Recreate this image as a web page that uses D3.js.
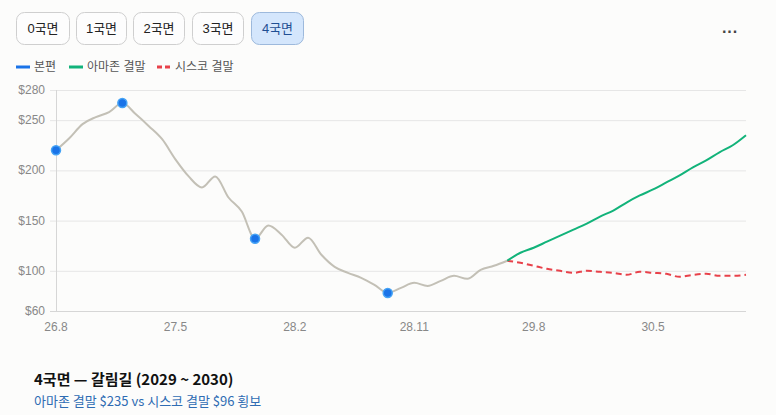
<!DOCTYPE html>
<html>
<head>
<meta charset="utf-8">
<script src="https://cdn.jsdelivr.net/npm/d3@7"></script>
<style>
  html, body { margin: 0; padding: 0; background: #fcfcfb; }
  svg { display: block; }
</style>
</head>
<body>
<div id="chart"></div>
<script>
// month labels, 2026.8 ~ 2030.12
var months = [
  "26.8","26.9","26.10","26.11","26.12",
  "27.1","27.2","27.3","27.4","27.5","27.6","27.7","27.8","27.9","27.10","27.11","27.12",
  "28.1","28.2","28.3","28.4","28.5","28.6","28.7","28.8","28.9","28.10","28.11","28.12",
  "29.1","29.2","29.3","29.4","29.5","29.6","29.7","29.8","29.9","29.10","29.11","29.12",
  "30.1","30.2","30.3","30.4","30.5","30.6","30.7","30.8","30.9","30.10","30.11","30.12"
];
var xTicks = ["26.8", "27.5", "28.2", "28.11", "29.8", "30.5"];
var yTicks = [60, 100, 150, 200, 250, 280];

// 본편 (26.8 ~ 29.6)
var mainValues = [220,232,246,253,258,267,256,244,231,211,194,183,194,173,159,132,145,136,
  123,133,116,104,98,93,86,78,83,88,85,90,95,92,101,105,110];
// 결말 (29.6 ~ 30.12)
var amazonValues = [110,118,123,129,135,141,147,154,160,168,175,181,188,195,203,210,218,225,235];
var ciscoValues = [110,108,105,102,100,98,100,99,98,96,99,98,97,94,96,97,95,95,96];
var keyPoints = [0, 5, 15, 25];

var phases = ["0국면", "1국면", "2국면", "3국면", "4국면"];
var activePhase = 4;

var W = 776, H = 415;
var svg = d3.select("#chart").append("svg")
    .attr("width", W).attr("height", H)
    .style("font-family", "'Liberation Sans', 'Noto Sans CJK KR', sans-serif");

// phase buttons
var btnX = [16, 76, 133, 192, 251];
var btnW = [54, 51, 52, 52, 53];
var btn = svg.selectAll(".btn")
    .data(phases)
    .enter().append("g")
    .attr("class", "btn")
    .attr("transform", function (d, i) { return "translate(" + btnX[i] + ",12)"; });
btn.append("rect")
    .attr("x", 0.5).attr("y", 0.5)
    .attr("width", function (d, i) { return btnW[i] - 1; })
    .attr("height", 32)
    .attr("rx", 8)
    .attr("fill", function (d, i) { return i == activePhase ? "#d4e6fc" : "#fdfdfd"; })
    .attr("stroke", function (d, i) { return i == activePhase ? "#9db9dc" : "#cfcfcf"; });
btn.append("text")
    .attr("x", function (d, i) { return btnW[i] / 2; })
    .attr("y", 21)
    .attr("text-anchor", "middle")
    .style("font-size", "13px")
    .attr("fill", function (d, i) { return i == activePhase ? "#1f4f93" : "#222"; })
    .text(function (d) { return d; });

svg.append("text")
    .attr("x", 730).attr("y", 37)
    .attr("text-anchor", "middle")
    .style("font-size", "16px").style("font-weight", "bold")
    .attr("fill", "#444")
    .text("···");

// legend
var legend = [
  { label: "본편", color: "#1a73e8", x: 16, dash: null },
  { label: "아마존 결말", color: "#12b37a", x: 69, dash: null },
  { label: "시스코 결말", color: "#e8414a", x: 157, dash: "5,3" }
];
var lg = svg.selectAll(".lg")
    .data(legend)
    .enter().append("g")
    .attr("transform", function (d) { return "translate(" + d.x + ",67)"; });
lg.append("line")
    .attr("x1", 0).attr("x2", 14)
    .attr("stroke", function (d) { return d.color; })
    .attr("stroke-width", 3)
    .attr("stroke-dasharray", function (d) { return d.dash; });
lg.append("text")
    .attr("x", 18).attr("y", 4)
    .style("font-size", "12px")
    .attr("fill", "#555")
    .text(function (d) { return d.label; });

// scales
var x = d3.scalePoint().domain(months).range([56, 746]);
var y = d3.scaleLinear().domain([60, 280]).range([311, 90]);

// grid
svg.append("g")
    .selectAll("line")
    .data(yTicks)
    .enter().append("line")
    .attr("x1", 50).attr("x2", 746)
    .attr("y1", function (d) { return y(d) + 0.5; })
    .attr("y2", function (d) { return y(d) + 0.5; })
    .attr("stroke", function (d) { return d == 60 ? "#d6d6d6" : "#e6e6e6"; });

svg.append("line")
    .attr("x1", 56.5).attr("x2", 56.5)
    .attr("y1", 90).attr("y2", 311)
    .attr("stroke", "#d6d6d6");

svg.append("g")
    .selectAll("text")
    .data(yTicks)
    .enter().append("text")
    .attr("x", 45)
    .attr("y", function (d) { return y(d) + 4; })
    .attr("text-anchor", "end")
    .style("font-size", "12px")
    .attr("fill", "#888")
    .text(function (d) { return "$" + d; });

svg.append("g")
    .selectAll("text")
    .data(xTicks)
    .enter().append("text")
    .attr("x", function (d) { return x(d); })
    .attr("y", 331)
    .attr("text-anchor", "middle")
    .style("font-size", "12px")
    .attr("fill", "#888")
    .text(function (d) { return d; });

// lines
var line = d3.line()
    .x(function (d) { return x(d[0]); })
    .y(function (d) { return y(d[1]); })
    .curve(d3.curveMonotoneX);

var branchStart = mainValues.length - 1;
function pairs(values, offset) {
  return values.map(function (v, i) { return [months[offset + i], v]; });
}

svg.append("path")
    .datum(pairs(ciscoValues, branchStart))
    .attr("d", line)
    .attr("fill", "none")
    .attr("stroke", "#e8414a")
    .attr("stroke-width", 2)
    .attr("stroke-dasharray", "6,4");

svg.append("path")
    .datum(pairs(amazonValues, branchStart))
    .attr("d", line)
    .attr("fill", "none")
    .attr("stroke", "#12b37a")
    .attr("stroke-width", 2);

svg.append("path")
    .datum(pairs(mainValues, 0))
    .attr("d", line)
    .attr("fill", "none")
    .attr("stroke", "#c3c0b6")
    .attr("stroke-width", 2);

svg.append("g")
    .selectAll("circle")
    .data(keyPoints)
    .enter().append("circle")
    .attr("cx", function (d) { return x(months[d]); })
    .attr("cy", function (d) { return y(mainValues[d]); })
    .attr("r", 4.5)
    .attr("fill", "#1a73e8")
    .attr("stroke", "#45a3f5")
    .attr("stroke-width", 1.5);

// caption
svg.append("text")
    .attr("x", 34).attr("y", 385)
    .style("font-family", "'Noto Sans CJK KR', sans-serif")
    .style("font-size", "15px").style("font-weight", "bold")
    .attr("fill", "#111")
    .text("4국면 — 갈림길 (2029 ~ 2030)");
svg.append("text")
    .attr("x", 34).attr("y", 406)
    .style("font-family", "'Noto Sans CJK KR', sans-serif")
    .style("font-size", "13px")
    .attr("fill", "#2f6cb3")
    .text("아마존 결말 $235 vs 시스코 결말 $96 횡보");
</script>
</body>
</html>
